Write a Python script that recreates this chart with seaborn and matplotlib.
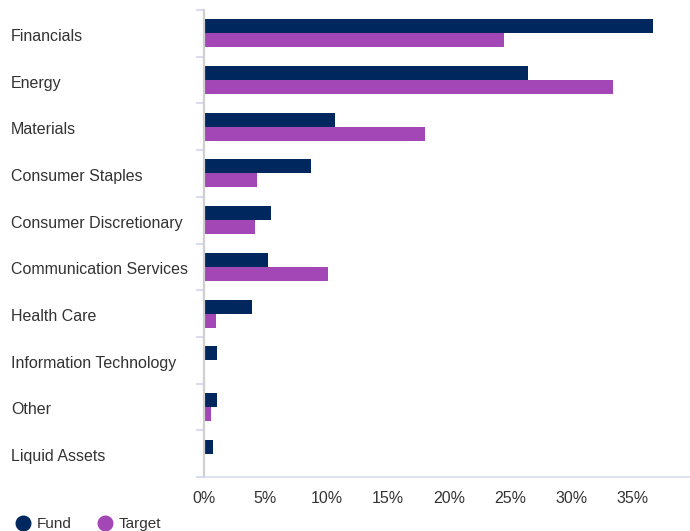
import numpy as np
import pandas as pd
import matplotlib
matplotlib.use("Agg")
import matplotlib.pyplot as plt
import seaborn as sns
from matplotlib.ticker import FixedLocator, FuncFormatter
from matplotlib.lines import Line2D
from matplotlib.transforms import ScaledTranslation

sectors = [
    "Financials", "Energy", "Materials", "Consumer Staples",
    "Consumer Discretionary", "Communication Services", "Health Care",
    "Information Technology", "Other", "Liquid Assets",
]
fund = [36.6, 26.4, 10.7, 8.7, 5.5, 5.2, 3.9, 1.1, 1.1, 0.7]
target = [24.5, 33.4, 18.0, 4.3, 4.2, 10.1, 1.0, 0.0, 0.6, 0.0]
series = ["Fund", "Target"]
x_ticks = [0, 5, 10, 15, 20, 25, 30, 35]

navy = "#00285e"
purple = "#a347b7"
text_color = "#333333"

df = pd.DataFrame({
    "sector": sectors * 2,
    "weight": fund + target,
    "series": [series[0]] * len(sectors) + [series[1]] * len(sectors),
})

sns.set_theme(style="white")
plt.rcParams["font.family"] = ["Liberation Sans", "DejaVu Sans"]

fig = plt.figure(figsize=(6.9, 5.31), dpi=100)
ax = fig.add_axes([204 / 690, 1 - 477 / 531, 1 - 204 / 690, (477 - 10) / 531])

sns.barplot(
    data=df, y="sector", x="weight", hue="series", order=sectors,
    hue_order=series, palette=[navy, purple], orient="h",
    width=0.6, gap=0, saturation=1, linewidth=0, ax=ax, legend=False,
)

ax.set_xlim(0, 39.65)
ax.set_ylim(len(sectors) - 0.5, -0.5)
ax.set_xlabel("")
ax.set_ylabel("")

# spines
for s in ["top", "right"]:
    ax.spines[s].set_visible(False)
ax.spines["left"].set_color("#cfcfcf")
ax.spines["left"].set_linewidth(1.6)
ax.spines["bottom"].set_color("#d8dcec")
ax.spines["bottom"].set_linewidth(1.2)

# x axis
ax.xaxis.set_major_locator(FixedLocator(x_ticks))
ax.xaxis.set_major_formatter(FuncFormatter(lambda v, p: f"{v:g}%"))
ax.tick_params(axis="x", length=0, pad=10, labelsize=11.5, labelcolor=text_color)

# y axis: labels at category centres, small ticks at boundaries
ax.set_yticks(range(len(sectors)))
ax.set_yticklabels(sectors)
ax.tick_params(axis="y", which="major", length=0, pad=139, labelsize=11.5,
               labelcolor=text_color)
shift = ScaledTranslation(0, -1.5 / 100, fig.dpi_scale_trans)
for lbl in ax.get_yticklabels():
    lbl.set_horizontalalignment("left")
    lbl.set_transform(lbl.get_transform() + shift)
ax.yaxis.set_minor_locator(FixedLocator(np.arange(-0.5, len(sectors), 1.0)))
ax.tick_params(axis="y", which="minor", length=6, width=1.5, color="#d8dcec",
               left=True)

ax.grid(False)

# legend
handles = [
    Line2D([], [], marker="o", linestyle="", markersize=10.5,
           markerfacecolor=c, markeredgecolor=c)
    for c in (navy, purple)
]
fig.legend(handles, series, loc="lower left", bbox_to_anchor=(0.0, -0.026),
           ncol=2, frameon=False, fontsize=11, handletextpad=0.3,
           columnspacing=1.6, labelcolor=text_color, handlelength=1.2)

fig.savefig("out.png", dpi=100)
